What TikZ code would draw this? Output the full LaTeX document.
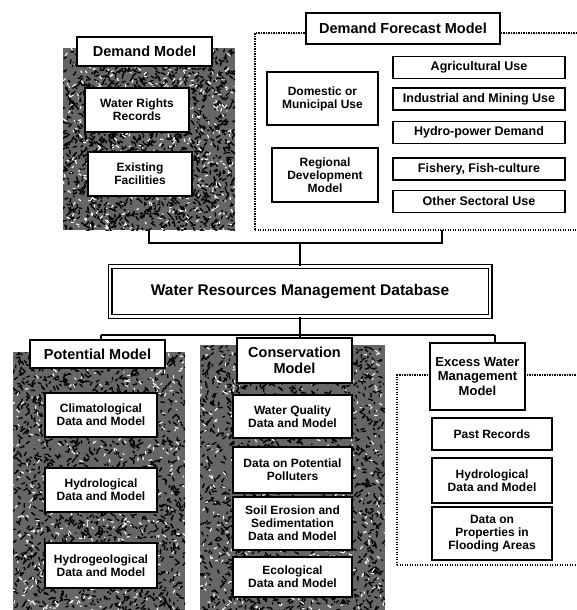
\documentclass[tikz,border=0pt]{standalone}
\usepackage{fontspec}
\setmainfont{Liberation Sans}
\usetikzlibrary{calc}
\newcommand\speckle[4]{%
\begin{scope}
\clip (#1,#2) rectangle (#3,#4);
\fill[black!60] (#1,#2) rectangle (#3,#4);
\foreach \k in {1,...,1600}{
 \pgfmathsetmacro\rx{#1+rnd*(#3-#1)}
 \pgfmathsetmacro\ry{#2+rnd*(#4-#2)}
 \draw[speck] (\rx,\ry) -- ++(rand*4,rand*4);
}
\foreach \k in {1,...,450}{
 \pgfmathsetmacro\rx{#1+rnd*(#3-#1)}
 \pgfmathsetmacro\ry{#2+rnd*(#4-#2)}
 \draw[speckw] (\rx,\ry) -- ++(rand*3,rand*3);
}
\end{scope}}
\tikzset{
 speck/.style={line width=1.4pt,black,line cap=round},
 speckw/.style={line width=1.1pt,white,line cap=round},
 box/.style={draw,line width=1.7pt,fill=white,align=center,inner sep=1pt,
   font=\bfseries\fontsize{12}{13}\selectfont},
 rbox/.style={box,minimum width=172pt,minimum height=22pt,font=\bfseries\fontsize{12.5}{13}\selectfont},
 ttl/.style={box,font=\bfseries\fontsize{14.5}{16}\selectfont},
 dbbox/.style={draw,line width=1.3pt,double distance=2.4pt,fill=white,
   font=\bfseries\fontsize{15.5}{17}\selectfont},
 grp/.style={inner sep=0pt},
 dotframe/.style={draw,line width=1.1pt,dash pattern={on 1.2pt off 1.3pt}},
 conn/.style={line width=1.7pt}
}
\begin{document}
\begin{tikzpicture}[x=1pt,y=-1pt]
\useasboundingbox[fill=white] (0,0) rectangle (576,610);
\pgfmathsetseed{7}
% textured groups
\speckle{63}{48}{235}{230}
\speckle{13}{352}{185}{612}
\speckle{200}{345}{385}{612}
\node[grp,minimum width=172pt,minimum height=182pt] (dgrp) at (149,139) {};
\node[grp,minimum width=172pt,minimum height=260pt] (pgrp) at (99,482) {};
\node[grp,minimum width=185pt,minimum height=267pt] (cgrp) at (292.5,478.5) {};
% dotted frames
\node[dotframe,minimum width=330pt,minimum height=197pt] (dfm) at (420,131.5) {};
\node[dotframe,minimum width=188pt,minimum height=190pt] (ewf) at (491,470) {};
% demand model
\node[ttl,minimum width=135pt,minimum height=29pt] (dm) at (144.5,51.5) {Demand Model};
\node[box,minimum width=104pt,minimum height=44pt] (wrr) at (137,110) {Water Rights\\Records};
\node[box,minimum width=104pt,minimum height=44pt] (ef) at (140,174) {Existing\\Facilities};
% demand forecast model
\node[ttl,minimum width=194pt,minimum height=31pt] (dfmt) at (403,28.5) {Demand Forecast Model};
\node[box,minimum width=111pt,minimum height=53pt] (dom) at (322.5,98.5) {Domestic or\\Municipal Use};
\node[box,minimum width=106pt,minimum height=54pt] (rdm) at (325,175) {Regional\\Development\\Model};
\node[rbox] (agr) at (479,67.5) {Agricultural Use};
\node[rbox] (ind) at (479,99) {Industrial and Mining Use};
\node[rbox] (hyd) at (479,132.5) {Hydro-power Demand};
\node[rbox] (fish) at (479,169) {Fishery, Fish-culture};
\node[rbox] (oth) at (479,201.5) {Other Sectoral Use};
% database
\node[dbbox,minimum width=380pt,minimum height=50pt] (db) at (300,291.5) {Water Resources Management Database};
% potential model
\node[ttl,minimum width=135pt,minimum height=28pt] (pt) at (97.5,354) {Potential Model};
\node[box,minimum width=112pt,minimum height=44pt] (clim) at (101,415) {Climatological\\Data and Model};
\node[box,minimum width=112pt,minimum height=44pt] (hydr) at (101,490) {Hydrological\\Data and Model};
\node[box,minimum width=112pt,minimum height=45pt] (hgeo) at (101,565.5) {Hydrogeological\\Data and Model};
% conservation model
\node[ttl,minimum width=115pt,minimum height=45pt] (ct) at (294.5,360.5) {Conservation\\Model};
\node[box,minimum width=119pt,minimum height=43pt] (wq) at (292.5,416.5) {Water Quality\\Data and Model};
\node[box,minimum width=119pt,minimum height=46pt] (dpp) at (292.5,470) {Data on Potential\\Polluters};
\node[box,minimum width=119pt,minimum height=53pt] (soil) at (292.5,523.5) {Soil Erosion and\\Sedimentation\\Data and Model};
\node[box,minimum width=119pt,minimum height=40pt] (eco) at (292.5,577) {Ecological\\Data and Model};
% excess water
\node[ttl,minimum width=95pt,minimum height=67pt,font=\bfseries\fontsize{13}{14.5}\selectfont] (et) at (477.5,376.5) {Excess Water\\Management\\Model};
\node[box,minimum width=120pt,minimum height=32pt] (pr) at (492,434) {Past Records};
\node[box,minimum width=120pt,minimum height=45pt] (ehyd) at (492,480.5) {Hydrological\\Data and Model};
\node[box,minimum width=120pt,minimum height=53pt] (dpf) at (492,533.5) {Data on\\Properties in\\Flooding Areas};
% connectors top
\coordinate (jt) at (300,243);
\coordinate (dtap) at (442,230);
\draw[conn] (dgrp.south) |- (jt) -| (dtap);
\draw[conn] (jt) -- (db.north);
% connectors bottom
\coordinate (bm) at (300,335);
\coordinate (bl) at (101,335);
\coordinate (br) at (495,335);
\draw[conn] (db.south) -- (bm);
\draw[conn] (bl) -- (br);
\draw[conn] (bl) -- (pt.north -| bl);
\draw[conn] (bm) -- (ct.north -| bm);
\draw[conn] (br) -- (et.north -| br);
\end{tikzpicture}
\end{document}
